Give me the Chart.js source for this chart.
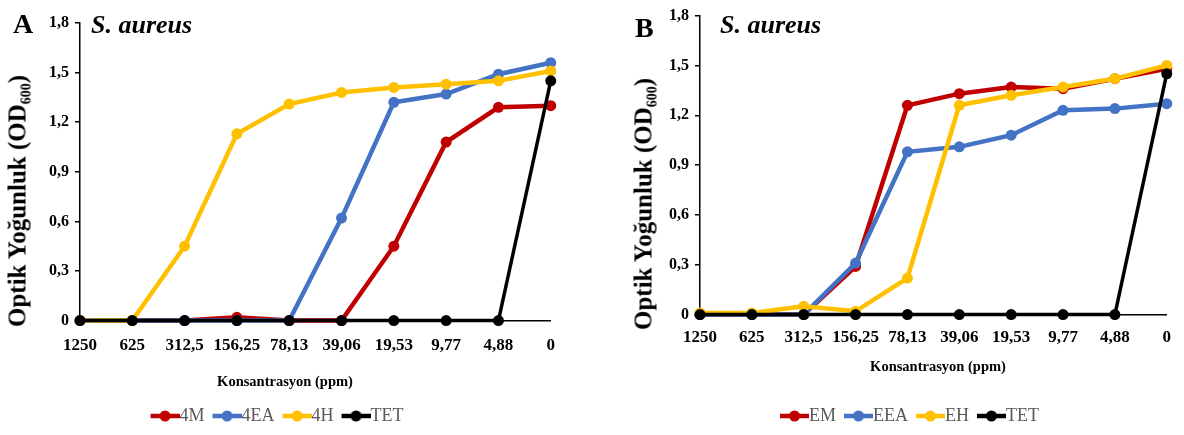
<!DOCTYPE html>
<html lang="tr">

<head>
    <meta charset="UTF-8">
    <title>S. aureus | Optik Yoğunluk</title>
    <script src="https://cdn.jsdelivr.net/npm/chart.js"></script>
    <style>
        body { margin: 0; background: #fff; }
        .janela { position: relative; width: 1184px; height: 435px; overflow: hidden; font-family: "Liberation Serif", "Times New Roman", serif; color: #000; }
        .painel { position: absolute; top: 0; }
        .letra { position: absolute; font-size: 28px; font-weight: bold; line-height: 1; }
        .especie { position: absolute; font-size: 26px; font-weight: bold; font-style: italic; line-height: 1; }
        .eixo-y { position: absolute; font-size: 25px; font-weight: bold; white-space: nowrap; line-height: 1; transform: translate(-50%, -50%) rotate(-90deg); }
        .eixo-y sub { font-size: 14px; vertical-align: -5px; }
        .eixo-x { position: absolute; font-size: 14.5px; font-weight: bold; white-space: nowrap; line-height: 1; transform: translate(-50%, -50%); }
    </style>
</head>

<body>
    <div class="janela">
        <div class="painel" style="left:0px"><canvas id="graficoA" width="570" height="435"></canvas></div>
        <div class="painel" style="left:644px"><canvas id="graficoB" width="540" height="435"></canvas></div>

        <div class="letra" style="left:13px; top:10px">A</div>
        <div class="especie" style="left:91px; top:12px">S. aureus</div>
        <div class="eixo-y" style="left:19px; top:201px">Optik Yoğunluk (OD<sub>600</sub>)</div>
        <div class="eixo-x" style="left:285px; top:381px">Konsantrasyon (ppm)</div>

        <div class="letra" style="left:635px; top:14px">B</div>
        <div class="especie" style="left:720px; top:12px">S. aureus</div>
        <div class="eixo-y" style="left:645px; top:204px">Optik Yoğunluk (OD<sub>600</sub>)</div>
        <div class="eixo-x" style="left:938px; top:366px">Konsantrasyon (ppm)</div>
    </div>
</body>

</html>
<script>
    // eixo x (ppm) e eixo y
    const categorias = ['1250', '625', '312,5', '156,25', '78,13', '39,06', '19,53', '9,77', '4,88', '0'];
    const yTicks = [0, 0.3, 0.6, 0.9, 1.2, 1.5, 1.8];
    const yTickLabels = ['0', '0,3', '0,6', '0,9', '1,2', '1,5', '1,8'];

    // painel A
    const nomesA = ['4M', '4EA', '4H', 'TET'];
    const valores4M = [0, 0, 0, 0.02, 0, 0, 0.45, 1.08, 1.29, 1.30];
    const valores4EA = [0, 0, 0, 0, 0, 0.62, 1.32, 1.37, 1.49, 1.56];
    const valores4H = [0, 0, 0.45, 1.13, 1.31, 1.38, 1.41, 1.43, 1.45, 1.51];
    const valoresTetA = [0, 0, 0, 0, 0, 0, 0, 0, 0, 1.45];

    // painel B
    const nomesB = ['EM', 'EEA', 'EH', 'TET'];
    const valoresEM = [0, 0, 0, 0.29, 1.26, 1.33, 1.37, 1.36, 1.42, 1.48];
    const valoresEEA = [0, 0, 0, 0.31, 0.98, 1.01, 1.08, 1.23, 1.24, 1.27];
    const valoresEH = [0.01, 0.01, 0.05, 0.02, 0.22, 1.26, 1.32, 1.37, 1.42, 1.50];
    const valoresTetB = [0, 0, 0, 0, 0, 0, 0, 0, 0, 1.45];

    const cores = ['#C00000', '#4472C4', '#FFC000', '#000000'];

    // simbolo da legenda: linha com bolinha no meio
    function iconeLegenda(cor) {
        const c = document.createElement('canvas');
        c.width = 38;
        c.height = 14;
        const g = c.getContext('2d');
        g.strokeStyle = cor;
        g.lineWidth = 4.5;
        g.beginPath();
        g.moveTo(9, 7);
        g.lineTo(38, 7);
        g.stroke();
        g.fillStyle = cor;
        g.beginPath();
        g.arc(23.5, 7, 5.5, 0, Math.PI * 2);
        g.fill();
        return c;
    }

    function serie(nome, dados, i) {
        return {
            label: nome,
            data: dados,
            borderColor: cores[i],
            backgroundColor: cores[i],
            borderWidth: i === 3 ? 3.5 : 4.5,
            pointRadius: 5.5,
            pointHoverRadius: 5.5,
            pointBackgroundColor: cores[i],
            pointBorderColor: cores[i],
            pointBorderWidth: 0,
            tension: 0,
            clip: false,
            order: 3 - i // ultima serie fica por cima, como no excel
        };
    }

    function opcoes(cfg) {
        return {
            responsive: false,
            animation: false,
            layout: { padding: { top: cfg.topo, right: cfg.direita, left: 0, bottom: 0 } },
            plugins: {
                legend: {
                    position: 'bottom',
                    labels: {
                        usePointStyle: true,
                        pointStyleWidth: 20,
                        padding: 8,
                        color: '#595959',
                        font: { family: 'Liberation Serif', size: 18 },
                        sort: (a, b) => a.datasetIndex - b.datasetIndex,
                        generateLabels: function (chart) {
                            const itens = Chart.defaults.plugins.legend.labels.generateLabels(chart);
                            itens.forEach(item => { item.pointStyle = iconeLegenda(cores[item.datasetIndex]); });
                            return itens;
                        }
                    }
                },
                tooltip: { enabled: false }
            },
            scales: {
                x: {
                    grid: { display: false, drawTicks: false },
                    border: { color: '#000', width: 1.5 },
                    ticks: {
                        color: '#000',
                        padding: cfg.padX,
                        maxRotation: 0,
                        autoSkip: false,
                        font: { family: 'Liberation Serif', size: 17, weight: 'bold' }
                    },
                    afterFit: s => { s.height = cfg.alturaX; }
                },
                y: {
                    min: 0,
                    max: 1.8,
                    afterBuildTicks: s => { s.ticks = yTicks.map(v => ({ value: v })); },
                    grid: { drawOnChartArea: false, drawTicks: true, tickLength: 5, color: '#000', lineWidth: 1.5 },
                    border: { color: '#000', width: 1.5 },
                    ticks: {
                        color: '#000',
                        padding: 6,
                        font: { family: 'Liberation Serif', size: 16, weight: 'bold' },
                        callback: (v, i) => yTickLabels[i]
                    },
                    afterFit: s => { s.width = cfg.larguraY; }
                }
            }
        };
    }

    new Chart(document.getElementById('graficoA'), {
        type: 'line',
        data: {
            labels: categorias,
            datasets: [
                serie(nomesA[0], valores4M, 0),
                serie(nomesA[1], valores4EA, 1),
                serie(nomesA[2], valores4H, 2),
                serie(nomesA[3], valoresTetA, 3)
            ]
        },
        options: opcoes({ topo: 23, direita: 16, larguraY: 80, alturaX: 78.4, padX: 15 })
    });

    new Chart(document.getElementById('graficoB'), {
        type: 'line',
        data: {
            labels: categorias,
            datasets: [
                serie(nomesB[0], valoresEM, 0),
                serie(nomesB[1], valoresEEA, 1),
                serie(nomesB[2], valoresEH, 2),
                serie(nomesB[3], valoresTetB, 3)
            ]
        },
        options: opcoes({ topo: 15, direita: 9, larguraY: 56, alturaX: 84.4, padX: 13 })
    });
</script>
